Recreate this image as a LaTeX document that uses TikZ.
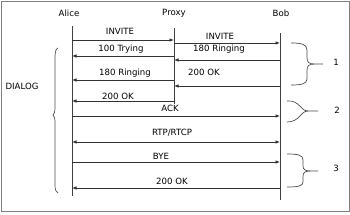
\documentclass[tikz,border=0pt]{standalone}
\usepackage{fontspec}
\setmainfont{DejaVu Sans}
\usetikzlibrary{arrows.meta}
\begin{document}
\begin{tikzpicture}[x=1pt,y=-1pt,
  lbl/.style={font=\fontsize{8.6}{9}\selectfont, inner sep=0pt, text=black},
  life/.style={draw=black!75, line width=0.8pt},
  msg/.style={draw=black!80, line width=0.8pt, -{Latex[length=4.5pt,width=3.6pt]}},
  dmsg/.style={draw=black!80, line width=0.8pt, {Latex[length=4.5pt,width=3.6pt]}-{Latex[length=4.5pt,width=3.6pt]}},
  bracestyle/.style={draw=black!70, line width=0.7pt}]
\useasboundingbox (0,0) rectangle (350,214);
\draw[gray, line width=1pt] (1,1) rectangle (349,211);

% headers
\node[lbl] (alice) at (69,13) {Alice};
\node[lbl] (proxy) at (174,13) {Proxy};
\node[lbl] (bob) at (281,13) {Bob};

% lifeline coordinates
\coordinate (aT) at (72,26);  \coordinate (aB) at (72,196);
\coordinate (pT) at (174,28); \coordinate (pB) at (174,104);
\coordinate (bT) at (280,33); \coordinate (bB) at (280,200);
\draw[life] (aT) -- (aB);
\draw[life] (pT) -- (pB);
\draw[life] (bT) -- (bB);

% message end points
\coordinate (a1) at (72,40);  \coordinate (p1) at (174,40);
\coordinate (p2) at (174,43); \coordinate (b2) at (280,43);
\coordinate (p3) at (174,56); \coordinate (a3) at (72,56);
\coordinate (b4) at (280,60); \coordinate (p4) at (174,60);
\coordinate (p5) at (174,80); \coordinate (a5) at (72,80);
\coordinate (b6) at (280,86); \coordinate (p6) at (174,86);
\coordinate (p7) at (174,101); \coordinate (a7) at (72,101);
\coordinate (a8) at (72,116); \coordinate (b8) at (280,116);
\coordinate (a9) at (72,142); \coordinate (b9) at (280,142);
\coordinate (a10) at (72,162); \coordinate (b10) at (280,162);
\coordinate (b11) at (280,188); \coordinate (a11) at (72,188);

\draw[msg] (a1) -- (p1);
\draw[msg] (p2) -- (b2);
\draw[msg] (p3) -- (a3);
\draw[msg] (b4) -- (p4);
\draw[msg] (p5) -- (a5);
\draw[msg] (b6) -- (p6);
\draw[msg] (p7) -- (a7);
\draw[msg] (a8) -- (b8);
\draw[dmsg] (a9) -- (b9);
\draw[msg] (a10) -- (b10);
\draw[msg] (b11) -- (a11);

% message labels
\node[lbl] (l1) at (120,31) {INVITE};
\node[lbl] (l2) at (220,36) {INVITE};
\node[lbl] (l3) at (121,49) {100 Trying};
\node[lbl] (l4) at (219,49) {180 Ringing};
\node[lbl] (l5) at (125,73) {180 Ringing};
\node[lbl] (l6) at (204,72) {200 OK};
\node[lbl] (l7) at (118,96) {200 OK};
\node[lbl] (l8) at (170,108) {ACK};
\node[lbl] (l9) at (172,133) {RTP/RTCP};
\node[lbl] (l10) at (161,156) {BYE};
\node[lbl] (l11) at (172,181) {200 OK};

% left brace
\draw[bracestyle] (58,48) .. controls (55,49) and (55,54) .. (55,60) -- (55,108)
  .. controls (55,112) and (54,114) .. (53,115)
  .. controls (54,116) and (55,118) .. (55,122) -- (55,185)
  .. controls (55,190) and (56,192) .. (58,193);
\node[lbl] (dialog) at (22,86) {DIALOG};

% brace 1
\draw[bracestyle] (291,43) .. controls (301,43) and (307,44) .. (307,50) -- (307,58)
  .. controls (307,62) and (309,64) .. (314,64) -- (323,64);
\draw[bracestyle] (314,64) .. controls (309,64) and (307,66) .. (307,70) -- (307,79)
  .. controls (307,84) and (301,85) .. (291,85);
\node[lbl] (n1) at (336,62) {1};

% brace 2
\draw[bracestyle] (287,101) .. controls (300,100) and (300,111) .. (308,111) -- (318,111);
\draw[bracestyle] (308,111) .. controls (300,111) and (300,122) .. (287,122);
\node[lbl] (n2) at (337,110) {2};

% brace 3
\draw[bracestyle] (287,154) .. controls (298,154) and (303,155) .. (303,160) -- (303,166)
  .. controls (303,170) and (306,171) .. (310,171) -- (318,171);
\draw[bracestyle] (310,171) .. controls (306,171) and (303,172) .. (303,176) -- (303,182)
  .. controls (303,186) and (298,187) .. (287,187);
\node[lbl] (n3) at (336,168) {3};
\end{tikzpicture}
\end{document}
